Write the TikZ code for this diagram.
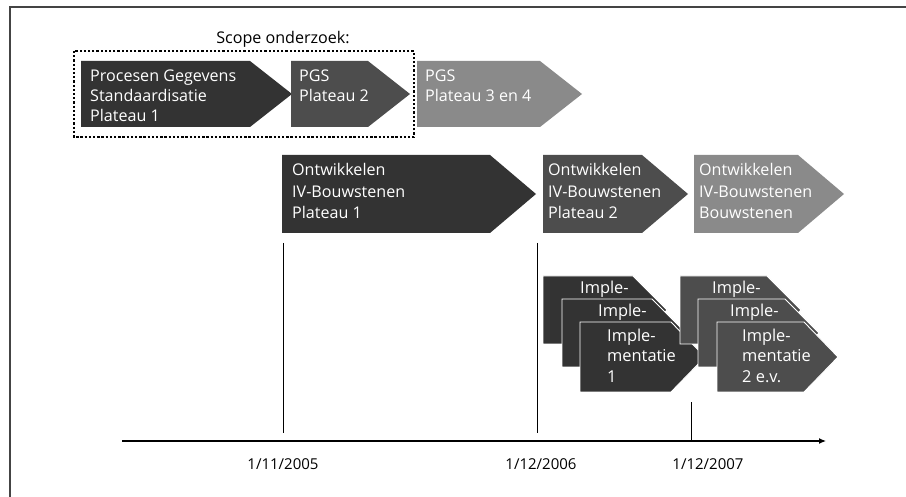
\documentclass[tikz,border=0pt]{standalone}
\usepackage{fontspec}
\setmainfont{Open Sans}
\usetikzlibrary{arrows.meta}
\begin{document}
\definecolor{phaseA}{HTML}{333333}
\definecolor{phaseB}{HTML}{4D4D4D}
\definecolor{phaseC}{HTML}{8A8A8A}
\definecolor{framegray}{HTML}{444444}
% chevron: x, y (top left), total width, height, tip length, style
\newcommand\chevron[6]{%
  \path[#6] (#1,#2) -- ++({#3-#5},0) -- ++(#5,{#4/2}) -- ++({-#5},{#4/2}) -- ++({#5-#3},0) -- cycle;}
\begin{tikzpicture}[x=1pt,y=-1pt,
  lbl/.style={anchor=north west,inner sep=0pt,text=white,align=left,
    font=\fontsize{16.1}{20.2}\selectfont},
  lbltall/.style={lbl,font=\fontsize{16.1}{21.5}\selectfont},
  implbl/.style={lbl,font=\fontsize{16.4}{20.2}\selectfont},
  datelbl/.style={inner sep=0pt,font=\fontsize{15}{17}\selectfont},
  tick/.style={line width=1pt},
  impl/.style={fill=#1,draw=white,line width=0.9pt}]
\useasboundingbox (0,0) rectangle (906,497);
\fill[white] (0,0) rectangle (906,497);
% open frame along top and left
\draw[framegray,line width=2pt] (9.5,497) -- (9.5,7) -- (906,7);

% scope of the study
\node[inner sep=0pt,font=\fontsize{16.1}{19}\selectfont] (scope) at (283,39) {Scope onderzoek:};
\draw[line width=2.3pt,dash pattern=on 2.3pt off 1.9pt] (74,51) rectangle (414,137);

% PGS phases
\chevron{81}{61}{211}{66}{42}{fill=phaseA}
\node[lbl] (pgs1) at (90,69.5) {Procesen Gegevens\\Standaardisatie\\Plateau 1};
\chevron{291}{61}{119}{66}{42}{fill=phaseB}
\node[lbl] (pgs2) at (299,69.5) {PGS\\Plateau 2};
\chevron{417}{61}{165}{66}{42}{fill=phaseC}
\node[lbl] (pgs3) at (425,69.5) {PGS\\Plateau 3 en 4};

% building block development
\chevron{282}{155}{254}{78}{46}{fill=phaseA}
\node[lbltall] (ivb1) at (292,163.5) {Ontwikkelen\\IV-Bouwstenen\\Plateau 1};
\chevron{543}{155}{145}{78}{46}{fill=phaseB}
\node[lbltall] (ivb2) at (548,163.5) {Ontwikkelen\\IV-Bouwstenen\\Plateau 2};
\chevron{694}{155}{150}{78}{46}{fill=phaseC}
\node[lbltall] (ivb3) at (699,163.5) {Ontwikkelen\\IV-Bouwstenen\\Bouwstenen};

% implementations, first series
\chevron{543}{276}{124}{68}{34}{impl=phaseA}
\node[implbl] (ia) at (580,281) {Imple-};
\chevron{562}{299}{124}{68}{34}{impl=phaseA}
\node[implbl] (ib) at (598,304) {Imple-};
\chevron{580}{322}{125}{70}{34}{impl=phaseA}
\node[implbl] (ic) at (607,329) {Imple-\\mentatie\\1};

% implementations, second series
\chevron{680}{276}{121}{68}{34}{impl=phaseB}
\node[implbl] (ja) at (712,281) {Imple-};
\chevron{698}{299}{121}{68}{34}{impl=phaseB}
\node[implbl] (jb) at (730,304) {Imple-};
\chevron{717}{322}{121}{70}{34}{impl=phaseB}
\node[implbl] (jc) at (742,329) {Imple-\\mentatie\\2 e.v.};

% time axis
\coordinate (axstart) at (122,441);
\coordinate (axend) at (826,441);
\draw[line width=1.2pt,-{Latex[length=7pt,width=6pt]}] (axstart) -- (axend);
\node[datelbl] (d1) at (283,464) {1/11/2005};
\node[datelbl] (d2) at (541,464) {1/12/2006};
\node[datelbl] (d3) at (708,464) {1/12/2007};
\coordinate (t1top) at (283,243);
\coordinate (t1bot) at (283,433);
\coordinate (t2top) at (537,243);
\coordinate (t2bot) at (537,433);
\coordinate (t3top) at (691,402);
\coordinate (t3bot) at (691,441);
\draw[tick] (t1top) -- (t1bot);
\draw[tick] (t2top) -- (t2bot);
\draw[tick] (t3top) -- (t3bot);
\end{tikzpicture}
\end{document}
